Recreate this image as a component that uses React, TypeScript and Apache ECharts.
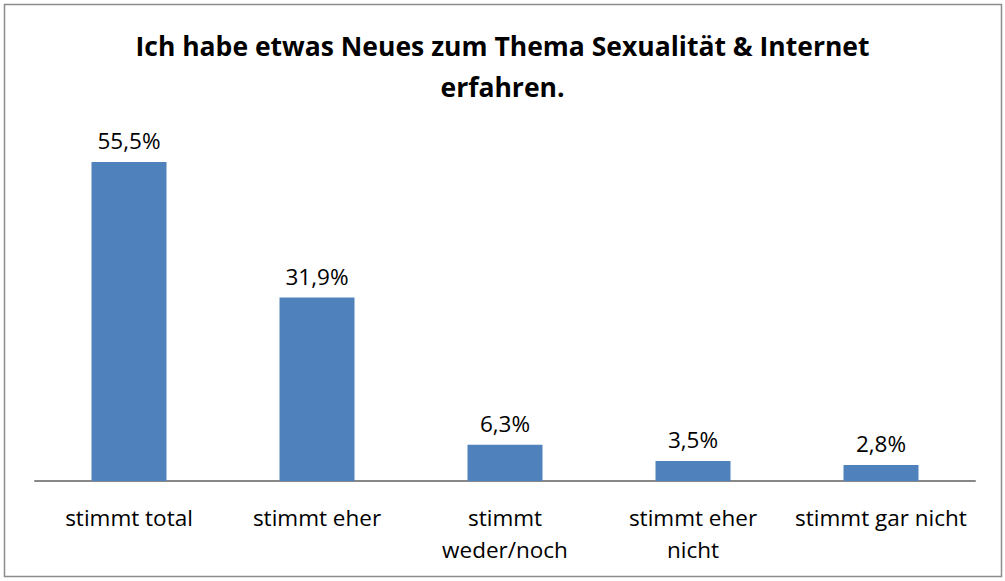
import React, { useEffect, useRef } from "react";
import * as echarts from "echarts";

const categories = ["stimmt total", "stimmt eher", "stimmt\nweder/noch", "stimmt eher\nnicht", "stimmt gar nicht"];
const values = [55.5, 31.9, 6.3, 3.5, 2.8];
const titleText = "Ich habe etwas Neues zum Thema Sexualität & Internet\nerfahren.";

export default function App() {
  const ref = useRef<HTMLDivElement>(null);
  useEffect(() => {
    const chart = echarts.init(ref.current!, null, { renderer: "svg" });
    const font = "'Open Sans', sans-serif";
    chart.setOption({
      animation: false,
      backgroundColor: "#ffffff",
      title: {
        text: titleText,
        left: "center",
        top: 20,
        textStyle: { fontFamily: font, fontSize: 26.5, fontWeight: "bold", color: "#000", lineHeight: 41 },
      },
      graphic: [
        {
          type: "rect",
          shape: { x: 4.5, y: 4.5, width: 997, height: 572 },
          style: { fill: "none", stroke: "#8c8c8c", lineWidth: 1.5 },
        },
      ],
      grid: { left: 35, right: 30, top: 136, bottom: 100 },
      xAxis: {
        type: "category",
        data: categories,
        axisLine: { lineStyle: { color: "#888", width: 2 } },
        axisTick: { show: false },
        axisLabel: { fontFamily: font, fontSize: 22.5, color: "#000", lineHeight: 32, margin: 20, interval: 0 },
      },
      yAxis: { type: "value", min: 0, max: 60, show: false, splitLine: { show: false } },
      series: [
        {
          type: "bar",
          data: values,
          barWidth: 75,
          itemStyle: { color: "#4F81BD" },
          label: {
            show: true,
            position: "top",
            distance: 10,
            fontFamily: font,
            fontSize: 22.5,
            color: "#000",
            formatter: (p: any) => p.value.toFixed(1).replace(".", ",") + "%",
          },
        },
      ],
    });
    return () => chart.dispose();
  }, []);
  return <div ref={ref} style={{ position: "fixed", left: 0, top: 0, width: 1005, height: 581 }} />;
}
